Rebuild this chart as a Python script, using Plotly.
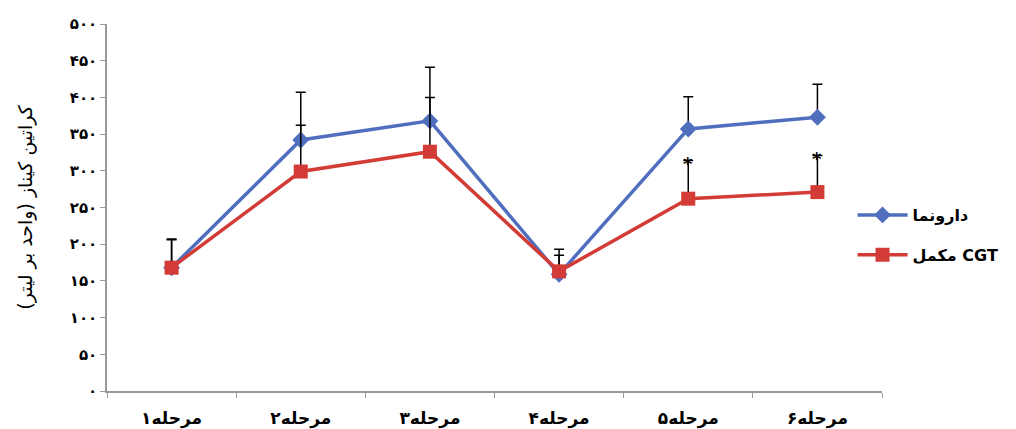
import plotly.graph_objects as go

categories = ["مرحله۱", "مرحله۲", "مرحله۳", "مرحله۴", "مرحله۵", "مرحله۶"]
placebo = [168, 342, 368, 159, 357, 373]
placebo_err = [39, 65, 73, 34, 44, 45]
cgt = [168, 299, 326, 163, 262, 271]
cgt_err = [38, 63, 74, 22, 52, 50]
star_idx = [4, 5]
ytick_vals = [0, 50, 100, 150, 200, 250, 300, 350, 400, 450, 500]
ytick_text = ["۰", "۵۰", "۱۰۰", "۱۵۰", "۲۰۰", "۲۵۰", "۳۰۰", "۳۵۰", "۴۰۰", "۴۵۰", "۵۰۰"]

FONT = "DejaVu Sans"
BLUE = "#4F6FBE"
RED = "#D33C36"

fig = go.Figure()
fig.add_trace(go.Scatter(
    x=categories, y=placebo, name="<b>دارونما</b>", mode="lines+markers",
    legendgroup="a",
    line=dict(color=BLUE, width=3.5),
    marker=dict(symbol="diamond", size=13, color=BLUE),
    error_y=dict(type="data", symmetric=False, array=placebo_err,
                 arrayminus=[0] * len(placebo), color="black", thickness=1.5, width=5),
))
fig.add_trace(go.Scatter(
    x=categories, y=cgt, name="<b>مکمل CGT</b>", mode="lines+markers",
    legendgroup="b",
    line=dict(color=RED, width=3.5),
    marker=dict(symbol="square", size=14, color=RED),
    error_y=dict(type="data", symmetric=False, array=cgt_err,
                 arrayminus=[0] * len(cgt), color="black", thickness=1.5, width=5),
))

for i in star_idx:
    fig.add_annotation(x=categories[i], y=cgt[i] + cgt_err[i], text="<b>*</b>",
                       showarrow=False, yanchor="middle", yshift=-3,
                       font=dict(family=FONT, size=18, color="black"))

fig.update_layout(
    width=1016, height=429,
    margin=dict(l=107, r=130, t=24, b=38),
    paper_bgcolor="white", plot_bgcolor="white",
    font=dict(family=FONT, color="black"),
    showlegend=True,
    legend=dict(x=0.962, xanchor="left", y=0.425, yanchor="middle",
                font=dict(family=FONT, size=16, color="black"),
                itemwidth=50, traceorder="grouped", tracegroupgap=16,
                bgcolor="rgba(0,0,0,0)"),
)
fig.update_xaxes(
    range=[-0.5, 5.5], automargin=False,
    showline=True, linecolor="#9a9a9a", linewidth=1.5,
    ticks="outside", ticklen=5, tickcolor="#9a9a9a", tickson="boundaries",
    ticklabelstandoff=11,
    showgrid=False, tickfont=dict(family=FONT, size=17, color="black"),
    tickprefix="<b>", ticksuffix="</b>",
)
fig.update_yaxes(
    range=[0, 500], automargin=False, showline=True, linecolor="#9a9a9a", linewidth=1.5,
    ticks="outside", ticklen=5, tickcolor="#9a9a9a",
    tickvals=ytick_vals, ticktext=["<b>" + t + "</b>" for t in ytick_text],
    showgrid=False, zeroline=False, tickfont=dict(family=FONT, size=15, color="black"),
    title=dict(text="کراتین کیناز (واحد بر لیتر)", font=dict(family=FONT, size=19, color="black"),
               standoff=32),
)

fig.write_html("out.html")
